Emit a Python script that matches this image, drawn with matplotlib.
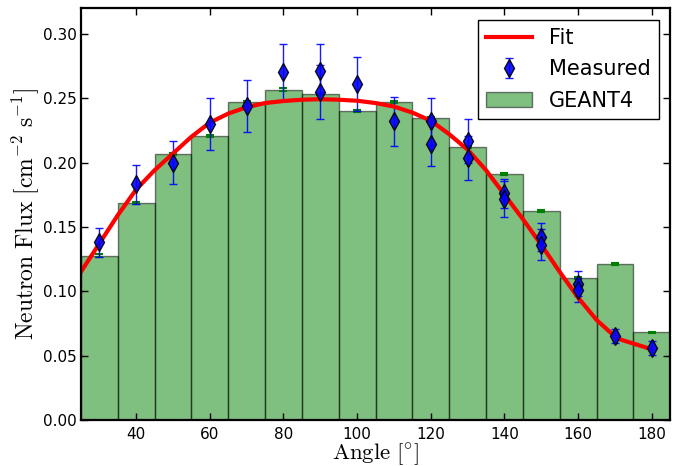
import numpy as np
import matplotlib
matplotlib.use('Agg')
import matplotlib.pyplot as plt

plt.rcParams['mathtext.fontset'] = 'cm'

# GEANT4 simulation (bars)
geant_angle = [30, 40, 50, 60, 70, 80, 90, 100, 110, 120, 130, 140, 150, 160, 170, 180]
geant_flux = [0.1277, 0.1689, 0.2065, 0.2205, 0.2471, 0.2567, 0.2531, 0.2401,
              0.2471, 0.2347, 0.2124, 0.1912, 0.1622, 0.1106, 0.1212, 0.0681]
geant_err = [0.001, 0.0008, 0.0008, 0.001, 0.001, 0.001, 0.0008, 0.0008,
             0.0008, 0.0008, 0.0008, 0.001, 0.0008, 0.0008, 0.0006, 0.0006]

# measured points
meas_angle = [30, 40, 50, 60, 70, 80, 90, 90, 100, 110, 120, 120, 130, 130,
              140, 140, 150, 150, 160, 160, 170, 180]
meas_flux = [0.138, 0.183, 0.200, 0.230, 0.244, 0.270, 0.271, 0.255, 0.261, 0.232,
             0.232, 0.2145, 0.217, 0.2035, 0.176, 0.172, 0.142, 0.136, 0.106, 0.101,
             0.065, 0.056]
meas_err = [0.011, 0.015, 0.017, 0.020, 0.020, 0.022, 0.021, 0.021, 0.021, 0.019,
            0.018, 0.0175, 0.017, 0.017, 0.011, 0.014, 0.011, 0.012, 0.010, 0.009,
            0.0055, 0.0055]

# fit curve
fit_angle = [25, 30, 35, 40, 45, 50, 55, 60, 65, 70, 75, 80, 85, 90, 95, 100, 105,
             110, 115, 120, 125, 130, 135, 140, 145, 150, 155, 160, 165, 170, 171.5, 180]
fit_flux = [0.115, 0.137, 0.159, 0.179, 0.194, 0.207, 0.220, 0.231, 0.238, 0.243,
            0.2462, 0.2478, 0.2488, 0.2492, 0.2488, 0.2480, 0.2462, 0.2435, 0.2388,
            0.2325, 0.222, 0.210, 0.194, 0.175, 0.156, 0.136, 0.115, 0.095, 0.0777,
            0.0648, 0.0625, 0.0549]

fig = plt.figure(figsize=(6.91, 4.66), dpi=100)
ax = fig.add_axes([0.117, 0.0987, 0.853, 0.884])

bars = ax.bar(geant_angle, geant_flux, width=10, color='g', alpha=0.5,
              edgecolor='k', linewidth=1, yerr=geant_err,
              error_kw=dict(ecolor='g', capsize=3, elinewidth=1, capthick=1.5))
meas = ax.errorbar(meas_angle, meas_flux, yerr=meas_err, fmt='d', color='b',
                   mec='k', mew=1, ms=9, ecolor='b', elinewidth=1, capsize=3,
                   capthick=1, alpha=0.9)
fit, = ax.plot(fit_angle, fit_flux, color='r', lw=3)

ax.set_xlim(25, 185)
ax.set_ylim(0, 0.32)
ax.set_xticks([40, 60, 80, 100, 120, 140, 160, 180])
ax.set_yticks([0.0, 0.05, 0.10, 0.15, 0.20, 0.25, 0.30])
ax.set_yticklabels(['0.00', '0.05', '0.10', '0.15', '0.20', '0.25', '0.30'])
ax.tick_params(direction='in', top=True, right=True, length=5, width=1,
               labelsize=11)
ax.tick_params(axis='x', pad=5)
ax.tick_params(axis='y', pad=3)
for s in ax.spines.values():
    s.set_linewidth(1.6)

ax.set_xlabel(r'$\mathrm{Angle\ [^{\circ}]}$', fontsize=16.5, labelpad=-0.5)
ax.set_ylabel(r'$\mathrm{Neutron\ Flux\ [cm^{-2}\ s^{-1}]}$', fontsize=17, labelpad=0.5)

leg = ax.legend([fit, meas, bars], ['Fit', 'Measured', 'GEANT4'], loc='upper right',
                fontsize=15, fancybox=False, edgecolor='k', framealpha=1,
                borderaxespad=0.55, handlelength=2.2, labelspacing=0.55)
leg.get_frame().set_linewidth(1)

plt.savefig('out.png', dpi=100)
